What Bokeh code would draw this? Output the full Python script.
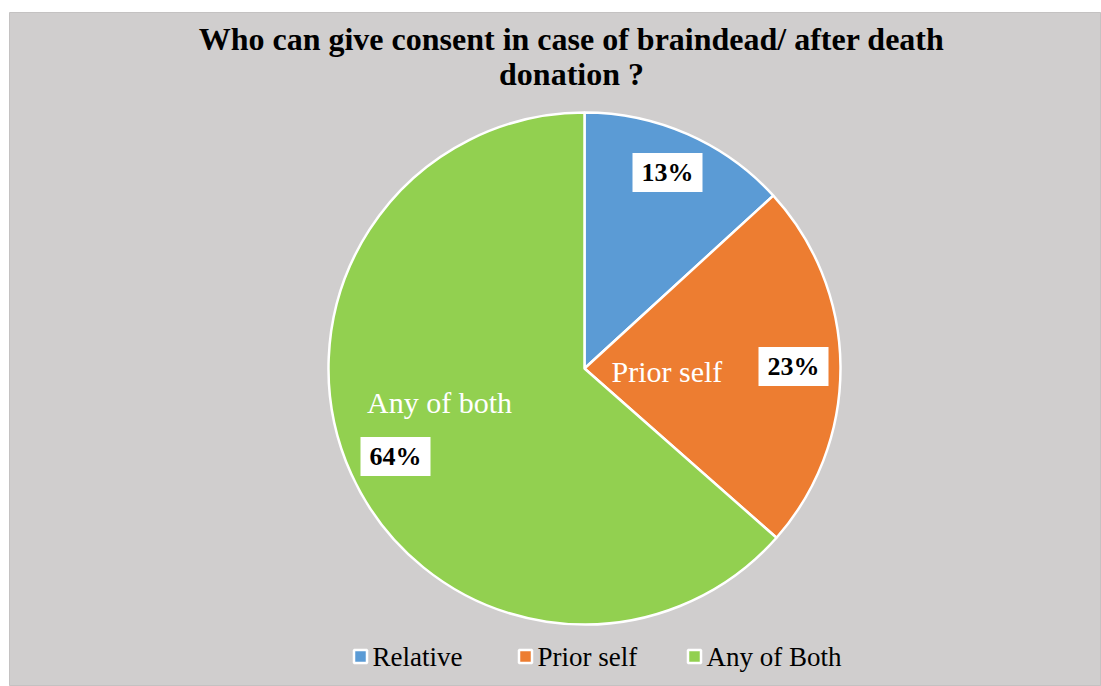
from bokeh.plotting import figure
from bokeh.models import Range1d
from bokeh.core.properties import value
from bokeh.embed import file_html
from bokeh.resources import INLINE
import math

categories = ["Relative", "Prior self", "Any of Both"]
shares = [13.2, 23.3, 63.5]
pct_labels = ["13%", "23%", "64%"]
colors = ["#5b9bd5", "#ed7d31", "#92d050"]

W, H = 1092, 674
p = figure(width=W + 9, height=H + 12, output_backend="svg", toolbar_location=None,
           x_range=Range1d(0, W), y_range=Range1d(0, H),
           min_border_left=9, min_border_top=12, min_border_right=0, min_border_bottom=0,
           background_fill_color="#d0cece", border_fill_color="white",
           outline_line_color="#c4c2c2")
p.axis.visible = False
p.grid.visible = False

cx, cy, r = 575, 318, 256
total = sum(shares)
start = math.pi / 2
starts, ends = [], []
for s in shares:
    a = s / total * 2 * math.pi
    starts.append(start)
    ends.append(start - a)
    start -= a
p.wedge(x=cx, y=cy, radius=r, start_angle=starts, end_angle=ends, direction="clock",
        fill_color=colors, line_color="white", line_width=2.5)

font = value("Liberation Serif")
# title
p.text(x=[562, 562], y=[648, 613],
       text=["Who can give consent in case of braindead/ after death", "donation ?"],
       text_font=font, text_font_size="32px", text_font_style="bold",
       text_align="center", text_baseline="middle", text_color="black")

# data labels
lx = [658, 784, 386]
ly = [514, 320, 230]
p.rect(x=lx, y=ly, width=70, height=39, fill_color="white", line_color=None)
p.text(x=lx, y=ly, text=pct_labels, text_font=font, text_font_size="26px",
       text_font_style="bold", text_align="center", text_baseline="middle", text_color="black")

# category labels inside slices
p.text(x=[602, 430], y=[315, 284], text=["Prior self", "Any of both"], text_font=font,
       text_font_size="30px", text_align=["left", "center"], text_baseline="middle",
       text_color="white")

# legend
mx = [351, 516, 685]
p.rect(x=mx, y=[30] * 3, width=13, height=13, fill_color=colors, line_color="white",
       line_width=2.5)
p.text(x=[m + 12 for m in mx], y=[30] * 3, text=categories, text_font=font,
       text_font_size="27px", text_align="left", text_baseline="middle", text_color="black")

open("out.html", "w").write(file_html(p, INLINE))
